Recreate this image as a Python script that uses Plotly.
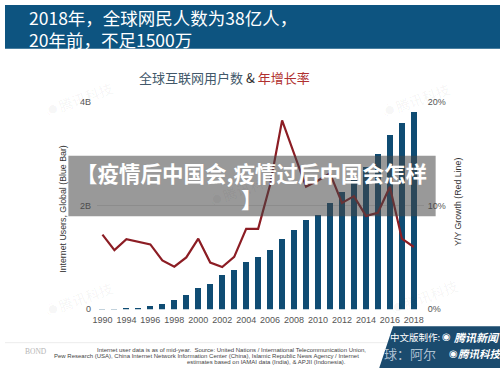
import plotly.graph_objects as go

# ---------------- data ----------------
years = list(range(1992, 2019))
users_b = [0.005, 0.012, 0.019, 0.037, 0.069, 0.106, 0.18, 0.275, 0.41, 0.50, 0.66, 0.77, 0.91,
           1.02, 1.14, 1.36, 1.54, 1.73, 1.82, 2.05, 2.26, 2.51, 2.75, 3.00, 3.36, 3.60, 3.81]
growth_pct = [7.2, 5.7, 6.75, 6.5, 6.25, 4.7, 4.1, 5.0, 6.8, 4.5, 4.07, 5.05, 7.75,
              7.75, 12.0, 18.2, 15.0, 11.8, 12.4, 13.1, 10.25, 10.9, 9.0, 9.3, 11.8, 6.8, 6.0]
x_tickvals = list(range(1992, 2019, 2))
x_ticktext = ["1990", "1994", "1996", "1998", "2000", "2002", "2004", "2006",
              "2008", "2010", "2012", "2014", "2016", "2018"]
y_tickvals = [0, 2, 4]
y_ticktext = ["0", "2B", "4B"]
y2_tickvals = [0, 10, 20]
y2_ticktext = ["0%", "10%", "20%"]

W, H = 500, 373
def fx(p):
    return p / W
def fy(p):
    return 1 - p / H

CJK = "Noto Sans CJK SC"
LAT = "Liberation Sans, Arial, sans-serif"

fig = go.Figure()
fig.add_trace(go.Bar(x=years, y=users_b, marker=dict(color="#0f4c73", line=dict(width=0)),
                     width=0.5, yaxis="y", hoverinfo="skip"))
fig.add_trace(go.Scatter(x=years, y=growth_pct, mode="lines", yaxis="y2",
                         line=dict(color="#8c1d24", width=2.2), hoverinfo="skip"))

shapes = []
# top banner
shapes.append(dict(type="rect", xref="paper", yref="paper", x0=0, x1=1, y0=fy(45), y1=1,
                   fillcolor="#0d5480", line=dict(width=0), layer="below"))
# footer separator
shapes.append(dict(type="line", xref="paper", yref="paper", x0=0, x1=1, y0=fy(347), y1=fy(347),
                   line=dict(color="#ececec", width=1), layer="below"))
# gray overlay box
shapes.append(dict(type="rect", xref="paper", yref="paper", x0=fx(64), x1=fx(435),
                   y0=fy(217), y1=fy(155), fillcolor="rgba(70,70,70,0.55)",
                   line=dict(width=0), layer="above"))
# badge
path = "M {a},{b} L {c},{b} L {c},{d} L {e},{d} Z".format(a=fx(392), b=fy(330), c=fx(500), d=fy(373), e=fx(378))
shapes.append(dict(type="path", xref="paper", yref="paper", path=path,
                   fillcolor="#1b4b6e", line=dict(width=0), layer="above"))

ann = []
def A(text, x, y, size, color, family=CJK, xanchor="left", angle=0, yanchor="middle"):
    ann.append(dict(text=text, x=fx(x), y=fy(y), xref="paper", yref="paper", showarrow=False,
                    xanchor=xanchor, yanchor=yanchor, textangle=angle,
                    font=dict(size=size, color=color, family=family)))

# faint watermarks
for wx, wy in [(75, 97), (75, 302), (423, 300), (415, 98), (240, 189)]:
    A("◉腾讯科技", wx, wy, 14, "rgba(0,0,0,0.05)", xanchor="center", angle=-20)

A("2018年，全球网民人数为38亿人，", 22, 13, 17.5, "white")
A("20年前，不足1500万", 22, 35, 17.5, "white")
A('<span style="color:#42586a">全球互联网用户数</span> & <span style="color:#b0302f">年增长率</span>',
  221.5, 74, 13, "#333", xanchor="center")

A("Internet Users, Global (Blue Bar)", 59, 209, 8.8, "#333", family=LAT, xanchor="center", angle=-90)
A("Y/Y Growth (Red Line)", 457, 202, 8.8, "#333", family=LAT, xanchor="center", angle=-90)

# overlay text
A("<b>【疫情后中国会,疫情过后中国会怎样</b>", 249, 172, 21.5, "white", xanchor="center")
A("<b>】</b>", 249, 199, 21.5, "white", xanchor="center")

# footer
A("BOND", 18, 356, 7.5, "#b5b5b5", family="Liberation Serif, serif")
A("Internet user data is as of mid-year.  Source: United Nations / International Telecommunication Union,",
  90.7, 354, 6, "#444", family=LAT)
A("Pew Research (USA), China Internet Network Information Center (China), Islamic Republic News Agency / Internet",
  47.7, 360.5, 6, "#444", family=LAT)
A("estimates based on IAMAI data (India), & APJII (Indonesia).", 181.7, 367, 6, "#444", family=LAT)

# badge text
A("中文版制作:", 387, 341, 9.5, "white")
A("◉", 439, 341, 10, "white", family="DejaVu Sans")
A("<b><i>腾讯新闻</i></b>", 452, 341, 11, "white")
A("球：阿尔", 381, 358, 13, "rgba(200,215,228,0.85)")
A("◉", 446, 358, 10, "white", family="DejaVu Sans")
A("<b><i>腾讯科技</i></b>", 456, 358, 10.5, "white")

fig.update_layout(
    width=W, height=H,
    margin=dict(l=0, r=0, t=0, b=0),
    paper_bgcolor="white", plot_bgcolor="white",
    showlegend=False, bargap=0,
    font=dict(family=LAT, color="#555"),
    xaxis=dict(domain=[fx(93), fx(423)], range=[1991.55, 2018.83],
               tickvals=x_tickvals, ticktext=x_ticktext, showgrid=False, zeroline=False,
               showline=False, ticks="", tickfont=dict(size=9, color="#555", family=LAT),
               ticklabelstandoff=4, fixedrange=True),
    yaxis=dict(domain=[fy(312.7), fy(99.3)], range=[0, 4], tickvals=y_tickvals, ticktext=y_ticktext,
               showgrid=True, gridcolor="#e3e3e3", gridwidth=1, zeroline=False, showline=False,
               ticks="", tickfont=dict(size=9, color="#555", family=LAT), ticklabelstandoff=5,
               fixedrange=True),
    yaxis2=dict(overlaying="y", side="right", range=[0, 20], tickvals=y2_tickvals,
                ticktext=y2_ticktext, showgrid=False, zeroline=False, showline=False, ticks="",
                tickfont=dict(size=9, color="#555", family=LAT), ticklabelstandoff=3,
                fixedrange=True),
    shapes=shapes, annotations=ann,
)

fig.write_html("out.html", config={"displayModeBar": False},
               post_script="document.body.style.margin='0';document.body.style.padding='0';")
